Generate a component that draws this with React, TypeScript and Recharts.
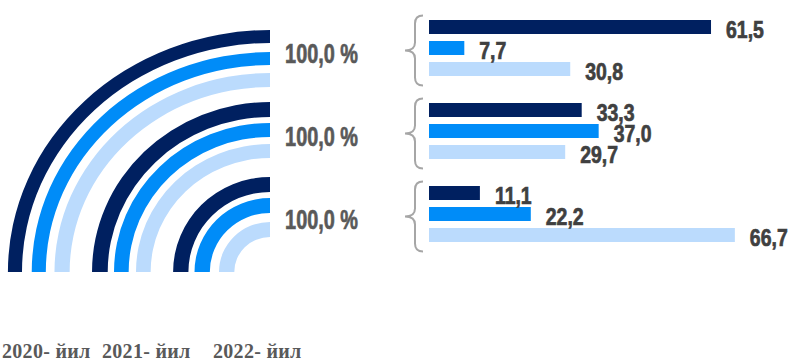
import { PieChart, Pie, BarChart, Bar, XAxis, YAxis, LabelList } from "recharts";

const years = ["2020- йил", "2021- йил", "2022- йил"];
const groups = ["I", "II", "III"];
const share2020 = [61.5, 33.3, 11.1];
const share2021 = [7.7, 37.0, 22.2];
const share2022 = [30.8, 29.7, 66.7];
const totals = [100.0, 100.0, 100.0];

const colors = ["#002060", "#008CF8", "#BBDBFD"];
const numFont = "'Liberation Sans', Arial, sans-serif";

// ring radii per group (dark, blue, light), outer group first; arcs are slightly stretched sideways
const ringRadii = [
  [[229, 242], [207, 220], [185, 199]],
  [[155, 170], [135, 149], [114, 128]],
  [[80, 95], [59, 74], [35, 50]],
];
const stretch = [1.083, 1.047, 1.02];

const rows = groups.map((g, i) => ({
  group: g,
  y2020: share2020[i],
  y2021: share2021[i],
  y2022: share2022[i],
}));

const keys = ["y2020", "y2021", "y2022"];

const fmt = (v: number) => v.toFixed(1).replace(".", ",");

function GroupTick(props: any) {
  const { y, payload } = props;
  const c = y + 3;
  return (
    <g>
      <text
        transform={`translate(358 ${y + 15}) scale(0.71 1)`}
        textAnchor="end"
        fontFamily={numFont}
        fontWeight="bold"
        fontSize={28}
        fill="#595959"
        stroke="#595959"
        strokeWidth={0.7}
      >
        {fmt(totals[payload.index])} %
      </text>
      <path
        d={`M423 ${c - 35} Q415 ${c - 35} 415 ${c - 27} L415 ${c - 8} Q415 ${c} 405 ${c} Q415 ${c} 415 ${c + 8} L415 ${c + 27} Q415 ${c + 35} 423 ${c + 35}`}
        fill="none"
        stroke="#A6A6A6"
        strokeWidth={2}
      />
    </g>
  );
}

function ValueLabel(props: any) {
  const { x, y, width, value } = props;
  return (
    <text
      transform={`translate(${x + width + 15} ${y + 18}) scale(0.81 1)`}
      fontFamily={numFont}
      fontWeight="bold"
      fontSize={24}
      fill="#404040"
      stroke="#404040"
      strokeWidth={0.7}
    >
      {fmt(Number(value))}
    </text>
  );
}

export default function App() {
  return (
    <div style={{ position: "absolute", left: 0, top: 0, width: 790, height: 363, background: "#fff" }}>
      {ringRadii.map((group, g) => (
        <div
          key={g}
          style={{
            position: "absolute",
            left: 0,
            top: 0,
            transform: `scaleX(${stretch[g]})`,
            transformOrigin: "270px 272px",
          }}
        >
          <PieChart width={790} height={363} margin={{ top: 0, right: 0, bottom: 0, left: 0 }}>
            {group.map((r, y) => (
              <Pie
                key={y}
                data={[{ name: years[y], value: totals[g] }]}
                dataKey="value"
                cx={270}
                cy={272}
                innerRadius={r[0]}
                outerRadius={r[1]}
                startAngle={180}
                endAngle={90}
                fill={colors[y]}
                stroke="none"
                isAnimationActive={false}
              />
            ))}
          </PieChart>
        </div>
      ))}
      <div style={{ position: "absolute", left: 0, top: 0 }}>
        <BarChart
          width={790}
          height={363}
          data={rows}
          layout="vertical"
          margin={{ top: 6, right: 40, bottom: 108, left: 399 }}
          barSize={14}
          barGap={7}
        >
          <XAxis type="number" domain={[0, 70]} hide />
          <YAxis
            type="category"
            dataKey="group"
            width={30}
            axisLine={false}
            tickLine={false}
            tick={<GroupTick />}
          />
          {keys.map((k, i) => (
            <Bar key={k} dataKey={k} name={years[i]} fill={colors[i]} isAnimationActive={false}>
              <LabelList dataKey={k} content={<ValueLabel />} />
            </Bar>
          ))}
        </BarChart>
      </div>
      {years.map((y, i) => (
        <span
          key={y}
          style={{
            position: "absolute",
            left: [2, 102, 213][i],
            top: 340,
            fontFamily: "'Liberation Serif', serif",
            fontWeight: "bold",
            fontSize: 20,
            letterSpacing: 0.3,
            color: "#595959",
            whiteSpace: "nowrap",
          }}
        >
          {y}
        </span>
      ))}
    </div>
  );
}
